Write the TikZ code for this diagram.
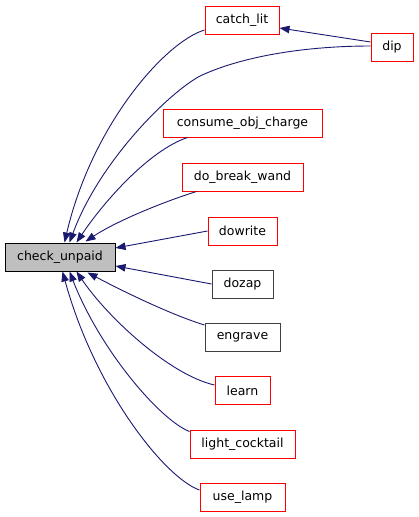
\documentclass[tikz,border=0pt]{standalone}
\usepackage{fontspec}
\setmainfont{DejaVu Sans}
\usetikzlibrary{arrows.meta}
\definecolor{edgeblue}{HTML}{191970}
\definecolor{boxred}{HTML}{FF0000}
\definecolor{boxgray}{HTML}{BFBFBF}
\definecolor{boxdark}{HTML}{404040}
\tikzset{
  fn/.style={draw=boxred, line width=1pt, minimum height=28pt, inner sep=0pt,
    font=\fontsize{12.5}{15}\selectfont, fill=white},
  fnblack/.style={fn, draw=boxdark},
  fnmain/.style={fn, draw=black, fill=boxgray},
  call/.style={draw=edgeblue, line width=0.9pt,
    -{Triangle[length=10pt,width=7.5pt]}, fill=none},
}
\begin{document}
\begin{tikzpicture}[x=1pt,y=-1pt]
\useasboundingbox (0,0) rectangle (419,517);
% nodes
\node[fnmain, minimum width=110pt] (check) at (60,257) {check\_unpaid};
\node[fn, minimum width=74pt] (catch) at (242,20) {catch\_lit};
\node[fn, minimum width=42pt] (dip) at (392,47) {dip};
\node[fn, minimum width=159pt] (consume) at (242.5,123) {consume\_obj\_charge};
\node[fn, minimum width=121pt] (breakw) at (242.5,177) {do\_break\_wand};
\node[fn, minimum width=69pt] (dowrite) at (242.5,231) {dowrite};
\node[fnblack, minimum width=61pt] (dozap) at (242.5,284) {dozap};
\node[fnblack, minimum width=75pt] (engrave) at (242.5,337) {engrave};
\node[fn, minimum width=55pt] (learn) at (242.5,390.5) {learn};
\node[fn, minimum width=105pt] (light) at (242.5,444) {light\_cocktail};
\node[fn, minimum width=85pt] (lamp) at (242.5,497) {use\_lamp};
% edges
\draw[call] ([yshift=5pt]dip.west) -- ([yshift=-8pt]catch.east);
\draw[call] ([yshift=-10pt]catch.west) .. controls (165,42) and (92,125) .. ([xshift=60pt]check.north west);
\draw[call] ([yshift=1pt]dip.west) .. controls (310,46) and (245,55) .. (200,76)
   .. controls (170,92) and (100,160) .. ([xshift=65pt]check.north west);
\draw[call] ([xshift=25pt]consume.south west) .. controls (150,150) and (105,200) .. ([xshift=72pt]check.north west);
\draw[call] ([xshift=15pt]breakw.south west) .. controls (160,203) and (115,222) .. ([xshift=81pt,yshift=1pt]check.north west);
\draw[call] (dowrite.west) -- ([yshift=9pt]check.east);
\draw[call] (dozap.west) -- ([yshift=-9pt]check.east);
\draw[call] ([yshift=12pt]engrave.west) .. controls (175,316) and (130,295) .. ([xshift=83pt,yshift=-1pt]check.south west);
\draw[call] ([yshift=5.5pt]learn.west) .. controls (170,375) and (108,318) .. ([xshift=72pt]check.south west);
\draw[call] ([yshift=-2pt]light.north west) .. controls (160,420) and (100,350) .. ([xshift=65pt]check.south west);
\draw[call] ([yshift=7pt]lamp.west) .. controls (165,478) and (95,390) .. ([xshift=58pt]check.south west);
\end{tikzpicture}
\end{document}
